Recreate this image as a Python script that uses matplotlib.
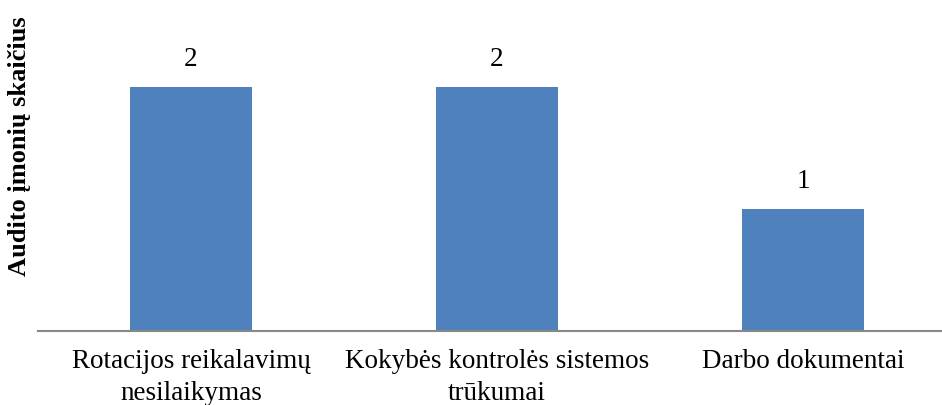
import matplotlib
matplotlib.use("Agg")
import matplotlib.pyplot as plt

categories = ["Rotacijos reikalavimų\nnesilaikymas",
              "Kokybės kontrolės sistemos\ntrūkumai",
              "Darbo dokumentai"]
values = [2, 2, 1]
y_label = "Audito įmonių skaičius"

plt.rcParams["font.family"] = ["Liberation Serif", "DejaVu Serif"]

fig = plt.figure(figsize=(9.42, 4.05), dpi=100)
W, H = 942, 405
ax = fig.add_axes([38 / W, (H - 331) / H, (W - 38) / W, 331 / H])

x = list(range(len(categories)))
bars = ax.bar(x, values, width=0.4, color="#4f81bd")

ax.set_xlim(-0.5, 2.454)
ax.set_ylim(0, 2.713)

for rect, v in zip(bars, values):
    ax.annotate(str(v), (rect.get_x() + rect.get_width() / 2, v),
                xytext=(0, 11), textcoords="offset points",
                ha="center", va="bottom", fontsize=19.5)

ax.set_xticks(x)
ax.set_xticklabels(categories, fontsize=19.5, linespacing=1.35)
ax.tick_params(axis="x", length=0, pad=13)
ax.set_yticks([])

for side in ("top", "right", "left"):
    ax.spines[side].set_visible(False)
ax.spines["bottom"].set_color("#888888")
ax.spines["bottom"].set_linewidth(1.5)

fig.text(20 / W, 1 - 146 / H, y_label, rotation=90, ha="center", va="center",
         fontsize=19, fontweight="bold")

fig.savefig("out.png", dpi=100)
